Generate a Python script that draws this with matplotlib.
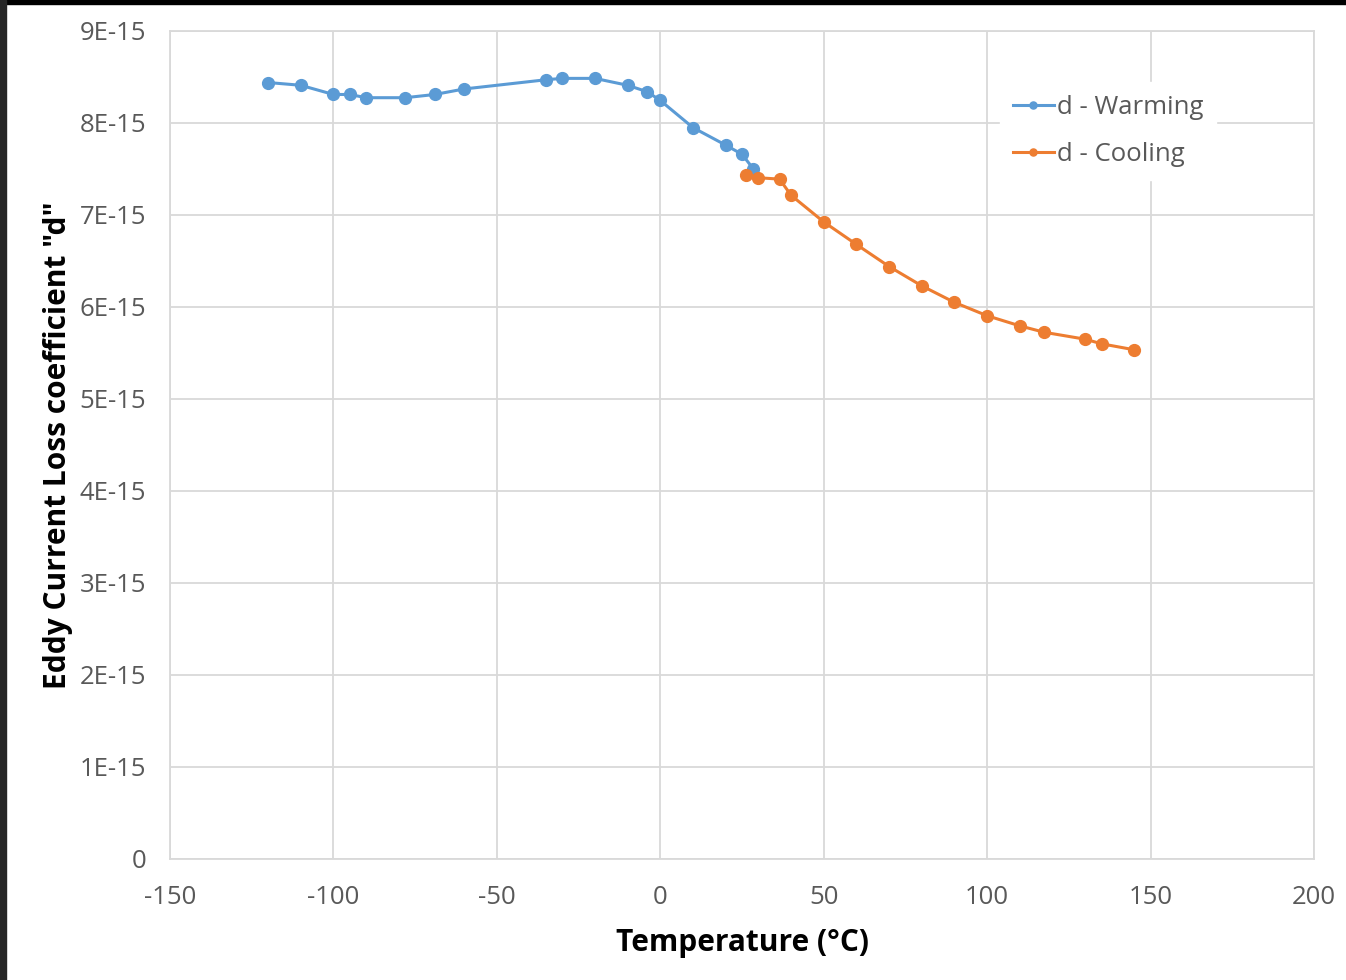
import matplotlib
matplotlib.use("Agg")
import matplotlib.pyplot as plt
import numpy as np
from matplotlib.patches import Rectangle

# Eddy current loss coefficient "d" vs temperature
warm_temp = [-120, -110, -100, -95, -90, -78, -69, -60, -35, -30, -20, -10, -4, 0,
             10, 20, 25, 28.5]
warm_d = [8.44, 8.41, 8.31, 8.31, 8.275, 8.275, 8.31, 8.37, 8.47, 8.485, 8.485,
          8.41, 8.34, 8.245, 7.95, 7.76, 7.66, 7.50]

cool_temp = [26.2, 30, 36.5, 40, 50, 60, 70, 80, 90, 100, 110, 117.5, 130, 135, 145]
cool_d = [7.435, 7.405, 7.39, 7.215, 6.925, 6.68, 6.44, 6.23, 6.05, 5.905, 5.795,
          5.725, 5.65, 5.60, 5.535]

x_ticks = [-150, -100, -50, 0, 50, 100, 150, 200]
y_ticks = [0, 1, 2, 3, 4, 5, 6, 7, 8, 9]
y_tick_labels = ["0", "1E-15", "2E-15", "3E-15", "4E-15", "5E-15", "6E-15",
                 "7E-15", "8E-15", "9E-15"]

plt.rcParams['font.family'] = ['Open Sans', 'DejaVu Sans']

fig = plt.figure(figsize=(13.46, 9.80), dpi=100)
W, H = 1346, 980
ax = fig.add_axes([170 / W, 1 - 859 / H, (1314 - 170) / W, (859 - 31) / H])

blue = "#5b9bd5"
orange = "#ed7d31"
grid_c = "#d9d9d9"

ax.plot(np.array(warm_temp), np.array(warm_d) * 1e-15, color=blue, lw=2.2,
        marker="o", ms=8.5, label="d - Warming", zorder=3)
ax.plot(np.array(cool_temp), np.array(cool_d) * 1e-15, color=orange, lw=2.2,
        marker="o", ms=8.5, label="d - Cooling", zorder=3)

ax.set_xlim(-150, 200)
ax.set_ylim(0, 9e-15)
ax.set_xticks(x_ticks)
ax.set_xticklabels([str(v) for v in x_ticks])
ax.set_yticks([v * 1e-15 for v in y_ticks])
ax.set_yticklabels(y_tick_labels)

ax.grid(True, color=grid_c, lw=1.3)
ax.set_axisbelow(True)
for s in ax.spines.values():
    s.set_color(grid_c)
    s.set_linewidth(1.3)
ax.tick_params(length=0, labelsize=18.5, labelcolor="#595959")
ax.tick_params(axis="y", pad=17)
ax.tick_params(axis="x", pad=19)

ax.set_xlabel("Temperature (°C)", fontsize=21.5, fontweight="bold", labelpad=13)
ax.set_ylabel('Eddy Current Loss coefficient "d"', fontsize=21.5,
              fontweight="bold", labelpad=5)

leg = ax.legend(loc="upper left", bbox_to_anchor=((1000 - 170) / 1144, 1 - (82 - 31) / 828),
                frameon=True, fontsize=18.5, handlelength=1.6, handletextpad=0.1,
                borderpad=0.5, labelspacing=0.85, markerscale=0.6, borderaxespad=0)
leg.get_frame().set_edgecolor("white")
leg.get_frame().set_facecolor("white")
leg.get_frame().set_alpha(1)
leg.get_frame().set_boxstyle("square", pad=0)
for t in leg.get_texts():
    t.set_color("#595959")

# screen edges
fig.patches.append(Rectangle((0, 1 - 4 / H), 1, 4 / H, transform=fig.transFigure,
                             color="black", zorder=10))
fig.patches.append(Rectangle((0, 0), 6 / W, 1, transform=fig.transFigure,
                             color="#262626", zorder=10))

fig.savefig("out.png", dpi=100)
